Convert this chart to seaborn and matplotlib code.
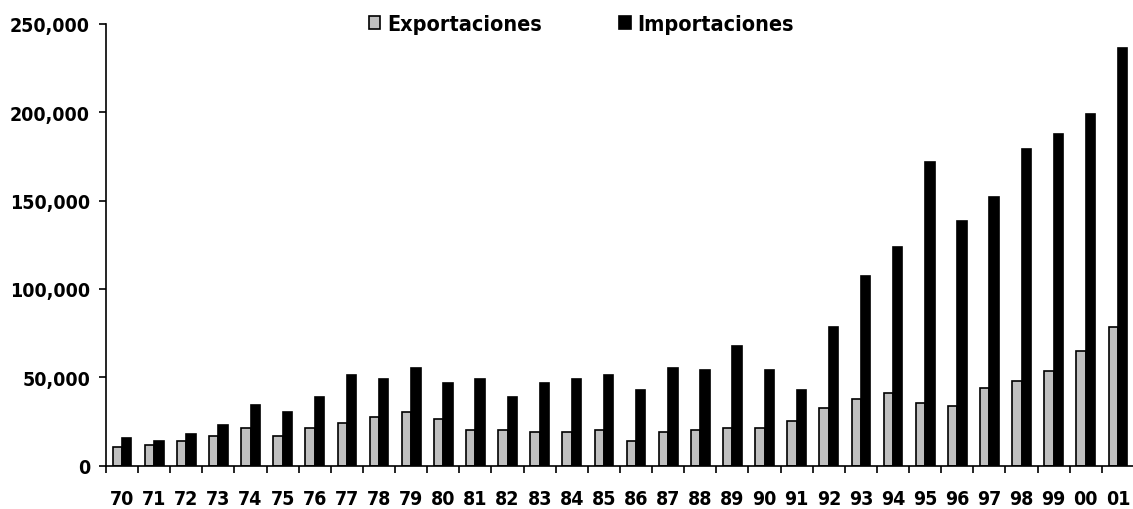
import pandas as pd
import seaborn as sns
import matplotlib.pyplot as plt
from matplotlib import font_manager
from matplotlib.ticker import FuncFormatter, FixedLocator

years = ['70', '71', '72', '73', '74', '75', '76', '77', '78', '79', '80', '81',
         '82', '83', '84', '85', '86', '87', '88', '89', '90', '91', '92', '93',
         '94', '95', '96', '97', '98', '99', '00', '01']
exportaciones = [10400, 11700, 14000, 16600, 21500, 16600, 21500, 24000, 27700, 30200,
                 26400, 20400, 20400, 19000, 19000, 20400, 14000, 19000, 20400, 21500,
                 21500, 25100, 32600, 37700, 41300, 35300, 33900, 43900, 47700, 53700,
                 65000, 78400]
importaciones = [15500, 14100, 17700, 22800, 34100, 30400, 39000, 51500, 49000, 55200,
                 46600, 49000, 39000, 46600, 49000, 51500, 42800, 55200, 54000, 67500,
                 54000, 42800, 78600, 107500, 123500, 171800, 138400, 152000, 179100, 187800,
                 198900, 236200]
series = ['Exportaciones', 'Importaciones']

df = pd.DataFrame({'year': years * 2,
                   'valor': exportaciones + importaciones,
                   'serie': [series[0]] * len(years) + [series[1]] * len(years)})

sns.set_style('white')

# narrow bold face if one is around
names = {f.name for f in font_manager.fontManager.ttflist}
narrow = [f for f in font_manager.fontManager.ttflist
          if ('Narrow' in f.name or f.stretch in ('condensed', 'semi-condensed'))]
if 'Liberation Sans Narrow' in names:
    fam, stretch, fs = 'Liberation Sans Narrow', 'normal', 17
elif any(f.name == 'DejaVu Sans' and f.stretch != 'normal' for f in narrow):
    fam, stretch, fs = 'DejaVu Sans', 'condensed', 14
else:
    fam, stretch, fs = 'Liberation Sans', 'normal', 15
plt.rcParams['font.family'] = [fam, 'DejaVu Sans']
plt.rcParams['font.stretch'] = stretch
plt.rcParams['font.weight'] = 'bold'
plt.rcParams['text.color'] = 'black'
plt.rcParams['xtick.color'] = 'black'
plt.rcParams['ytick.color'] = 'black'

fig = plt.figure(figsize=(11.33, 5.10), dpi=100)
ax = fig.add_axes([106 / 1133, 43.3 / 510, 1028 / 1133, 442 / 510])

sns.barplot(data=df, x='year', y='valor', hue='serie', order=years, hue_order=series,
            palette=['#c0c0c0', '#000000'], width=0.58, edgecolor='black', linewidth=1.2,
            saturation=1, ax=ax, legend=False)

ax.set_xlim(-0.5, len(years) - 0.5)
ax.set_ylim(0, 250000)
ax.set_yticks([0, 50000, 100000, 150000, 200000, 250000])
ax.yaxis.set_major_formatter(FuncFormatter(lambda v, p: f'{int(v):,}'))
ax.xaxis.set_minor_locator(FixedLocator([i - 0.5 for i in range(len(years) + 1)]))
ax.tick_params(axis='x', which='major', bottom=True, length=0, pad=17, labelsize=fs)
ax.tick_params(axis='x', which='minor', bottom=True, length=5, width=1.2, direction='out')
ax.tick_params(axis='y', left=True, length=5, width=1.2, direction='out', pad=6.5, labelsize=fs)
ax.set_xlabel('')
ax.set_ylabel('')
for s in ['top', 'right']:
    ax.spines[s].set_visible(False)
for s in ['left', 'bottom']:
    ax.spines[s].set_color('black')
    ax.spines[s].set_linewidth(1.2)

handles = [plt.Rectangle((0, 0), 1, 1, facecolor='#c0c0c0', edgecolor='black', linewidth=1.2),
           plt.Rectangle((0, 0), 1, 1, facecolor='#000000', edgecolor='black', linewidth=1.2)]
fig.legend(handles, series, loc='center', bbox_to_anchor=(0.513, 0.951), ncol=2,
           frameon=False, fontsize=fs + 1.5, handlelength=0.55, handleheight=0.55,
           handletextpad=0.3, columnspacing=3.6)

fig.savefig('out.png', dpi=100)
